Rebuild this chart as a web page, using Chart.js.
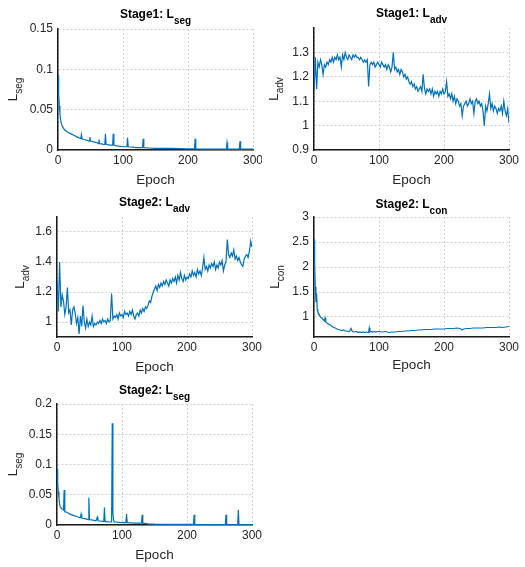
<!DOCTYPE html>
<html>
<head>
<meta charset="utf-8">
<script src="https://cdn.jsdelivr.net/npm/chart.js@4.4.1/dist/chart.umd.min.js"></script>
<style>
  html, body { margin: 0; padding: 0; background: #fff; }
  #page { position: relative; width: 525px; height: 567px; }
  .box { position: absolute; }
</style>
</head>
<body>
<div id="page">
  <div class="box" style="left:0;top:0;width:262px;height:190px"><canvas id="c1"></canvas></div>
  <div class="box" style="left:262px;top:0;width:263px;height:190px"><canvas id="c2"></canvas></div>
  <div class="box" style="left:0;top:190px;width:262px;height:190px"><canvas id="c3"></canvas></div>
  <div class="box" style="left:262px;top:190px;width:263px;height:190px"><canvas id="c4"></canvas></div>
  <div class="box" style="left:0;top:380px;width:262px;height:187px"><canvas id="c5"></canvas></div>
</div>
<script>
const epochTicks = [0, 100, 200, 300];

// Stage1: L_seg
const seg1Epochs = [0, 1, 2, 3, 4, 5, 7, 10, 15, 20, 25, 30, 35, 36, 37, 40, 45, 48, 49, 50,
  55, 60, 62, 63, 64, 70, 72, 73, 74, 80, 84, 85, 86, 90, 100, 106, 107, 108, 115, 120,
  130, 131, 132, 140, 150, 175, 200, 210, 211, 212, 230, 250, 259, 260, 261, 270, 279, 280, 281, 290, 300];
const seg1Loss = [0.093, 0.07, 0.055, 0.045, 0.038, 0.033, 0.029, 0.025, 0.022, 0.02, 0.018, 0.016, 0.014, 0.019, 0.014, 0.013, 0.012, 0.011, 0.016, 0.011,
  0.010, 0.009, 0.008, 0.013, 0.008, 0.007, 0.007, 0.020, 0.007, 0.006, 0.006, 0.020, 0.006, 0.005, 0.004, 0.004, 0.015, 0.004, 0.0035, 0.003,
  0.003, 0.014, 0.003, 0.0025, 0.002, 0.002, 0.0015, 0.0015, 0.014, 0.0015, 0.0012, 0.001, 0.001, 0.009, 0.001, 0.001, 0.001, 0.011, 0.001, 0.001, 0.001];
const seg1Ticks = [0, 0.05, 0.1, 0.15];

// epochs shared by both L_adv curves
const advEpochs = [0, 2, 4, 6, 8, 10, 12, 14, 16, 18, 20, 22, 24, 26, 28, 30, 32, 34, 36, 38,
  40, 42, 44, 46, 48, 50, 52, 54, 56, 58, 60, 62, 64, 66, 68, 70, 72, 74, 76, 78,
  80, 82, 84, 86, 88, 90, 92, 94, 96, 98, 100, 102, 104, 106, 108, 110, 112, 114, 116, 118,
  120, 122, 124, 126, 128, 130, 132, 134, 136, 138, 140, 142, 144, 146, 148, 150, 152, 154, 156, 158,
  160, 162, 164, 166, 168, 170, 172, 174, 176, 178, 180, 182, 184, 186, 188, 190, 192, 194, 196, 198,
  200, 202, 204, 206, 208, 210, 212, 214, 216, 218, 220, 222, 224, 226, 228, 230, 232, 234, 236, 238,
  240, 242, 244, 246, 248, 250, 252, 254, 256, 258, 260, 262, 264, 266, 268, 270, 272, 274, 276, 278,
  280, 282, 284, 286, 288, 290, 292, 294, 296, 298, 300];

// Stage1: L_adv
const adv1Loss = [1.14, 1.28, 1.15, 1.26, 1.24, 1.27, 1.25, 1.21, 1.25, 1.24, 1.26, 1.25, 1.27, 1.26, 1.28, 1.26, 1.28, 1.27, 1.29, 1.27,
  1.28, 1.24, 1.29, 1.27, 1.30, 1.28, 1.27, 1.29, 1.28, 1.27, 1.29, 1.28, 1.29, 1.28, 1.28, 1.27, 1.28, 1.27, 1.26, 1.27,
  1.26, 1.27, 1.16, 1.25, 1.26, 1.25, 1.26, 1.24, 1.25, 1.26, 1.25, 1.24, 1.26, 1.25, 1.24, 1.25, 1.23, 1.25, 1.24, 1.22,
  1.24, 1.30, 1.23, 1.24, 1.22, 1.23, 1.21, 1.23, 1.22, 1.20, 1.21, 1.19, 1.20, 1.18, 1.17, 1.18, 1.16, 1.17, 1.15, 1.16,
  1.14, 1.15, 1.16, 1.14, 1.21, 1.15, 1.13, 1.15, 1.14, 1.15, 1.13, 1.15, 1.12, 1.14, 1.13, 1.14, 1.12, 1.14, 1.13, 1.15,
  1.13, 1.14, 1.18, 1.12, 1.13, 1.11, 1.13, 1.10, 1.12, 1.09, 1.11, 1.10, 1.08, 1.09, 1.04, 1.08, 1.09, 1.10, 1.08, 1.09,
  1.11, 1.09, 1.10, 1.05, 1.10, 1.11, 1.09, 1.10, 1.08, 1.09, 1.06, 1.00, 1.08, 1.06, 1.09, 1.13, 1.07, 1.09, 1.06, 1.08,
  1.07, 1.05, 1.07, 1.06, 1.08, 1.05, 1.10, 1.06, 1.04, 1.07, 1.01];
const adv1Ticks = [0.9, 1, 1.1, 1.2, 1.3];

// Stage2: L_adv
const adv2Loss = [1.28, 1.07, 1.40, 1.10, 1.18, 1.14, 1.05, 1.10, 1.23, 1.06, 1.08, 0.98, 1.08, 1.10, 1.06, 0.99, 1.03, 0.92, 1.04, 0.97,
  1.11, 1.00, 0.96, 1.02, 0.97, 1.00, 0.98, 1.04, 0.97, 0.99, 0.98, 1.00, 0.99, 1.01, 0.99, 1.02, 1.00, 1.01, 0.99, 1.02,
  1.00, 1.01, 1.19, 1.02, 1.04, 1.03, 1.05, 1.02, 1.06, 1.04, 1.05, 1.03, 1.07, 1.05, 1.06, 1.04, 1.07, 1.05, 1.08, 1.04,
  1.02, 1.05, 1.06, 1.04, 1.08, 1.06, 1.09, 1.07, 1.10, 1.09, 1.11, 1.14, 1.13, 1.17, 1.20, 1.22, 1.24, 1.21, 1.25, 1.23,
  1.26, 1.24, 1.27, 1.25, 1.28, 1.26, 1.24, 1.28, 1.26, 1.29, 1.27, 1.30, 1.26, 1.31, 1.28, 1.33, 1.29, 1.27, 1.31, 1.28,
  1.30, 1.29, 1.32, 1.30, 1.34, 1.31, 1.33, 1.30, 1.35, 1.32, 1.34, 1.31, 1.36, 1.43, 1.35, 1.37, 1.34, 1.38, 1.36, 1.39,
  1.37, 1.40, 1.35, 1.38, 1.36, 1.40, 1.38, 1.41, 1.34, 1.38, 1.40, 1.55, 1.45, 1.43, 1.46, 1.44, 1.48, 1.42, 1.44, 1.41,
  1.43, 1.40, 1.38, 1.37, 1.42, 1.44, 1.45, 1.43, 1.47, 1.54, 1.50];
const adv2Ticks = [1, 1.2, 1.4, 1.6];

// Stage2: L_con
const conEpochs = [0, 1, 2, 3, 4, 5, 6, 8, 10, 12, 14, 16, 17, 18, 20, 22, 25, 28, 30, 33,
  35, 38, 40, 43, 45, 48, 50, 53, 55, 57, 59, 62, 65, 68, 70, 73, 75, 78, 80, 84,
  85, 86, 88, 90, 93, 95, 98, 100, 105, 110, 115, 120, 125, 130, 135, 140, 145, 150, 155, 160,
  165, 170, 175, 180, 185, 190, 195, 200, 205, 210, 215, 220, 224, 226, 228, 230, 235, 240, 245, 250,
  255, 260, 265, 270, 275, 280, 285, 290, 295, 300];
const conLoss = [2.55, 2.05, 1.60, 1.30, 1.47, 1.15, 1.10, 1.05, 1.00, 0.98, 0.95, 0.92, 0.98, 0.90, 0.88, 0.86, 0.84, 0.81, 0.79, 0.78,
  0.76, 0.75, 0.74, 0.73, 0.74, 0.72, 0.72, 0.71, 0.72, 0.77, 0.71, 0.70, 0.71, 0.69, 0.70, 0.69, 0.70, 0.69, 0.70, 0.69,
  0.78, 0.70, 0.71, 0.70, 0.71, 0.70, 0.71, 0.71, 0.70, 0.71, 0.69, 0.70, 0.70, 0.71, 0.71, 0.72, 0.72, 0.73, 0.73, 0.74,
  0.74, 0.75, 0.75, 0.75, 0.76, 0.76, 0.76, 0.76, 0.77, 0.77, 0.77, 0.78, 0.77, 0.76, 0.74, 0.76, 0.77, 0.77, 0.78, 0.78,
  0.78, 0.78, 0.79, 0.79, 0.79, 0.79, 0.80, 0.79, 0.80, 0.81];
const conTicks = [1, 1.5, 2, 2.5, 3];

// Stage2: L_seg
const seg2Epochs = [0, 1, 2, 3, 4, 5, 7, 10, 11, 12, 15, 20, 25, 30, 36, 37, 38, 40, 45, 48,
  49, 50, 55, 60, 61, 62, 63, 70, 72, 73, 74, 80, 84, 85, 86, 87, 88, 90, 100, 106,
  107, 108, 120, 130, 131, 132, 140, 150, 175, 200, 210, 211, 212, 230, 250, 259, 260, 261, 270, 278,
  279, 280, 290, 300];
const seg2Loss = [0.093, 0.07, 0.055, 0.045, 0.035, 0.03, 0.027, 0.025, 0.058, 0.022, 0.021, 0.018, 0.016, 0.014, 0.012, 0.018, 0.012, 0.011, 0.010, 0.009,
  0.045, 0.009, 0.008, 0.007, 0.007, 0.013, 0.007, 0.006, 0.006, 0.029, 0.006, 0.005, 0.005, 0.168, 0.02, 0.008, 0.005, 0.005, 0.004, 0.004,
  0.018, 0.004, 0.003, 0.003, 0.017, 0.003, 0.002, 0.0015, 0.001, 0.001, 0.001, 0.017, 0.001, 0.0008, 0.0007, 0.0007, 0.017, 0.0007, 0.0006, 0.0006,
  0.025, 0.0006, 0.0005, 0.0005];
const seg2Ticks = [0, 0.05, 0.1, 0.15, 0.2];

const FONT = '"Liberation Sans", Arial, Helvetica, sans-serif';

function drawSub(ctx, main, sub, x, y, size, subSize, drop, bold) {
  const w = bold ? 'bold ' : '';
  const mainFont = w + size + 'px ' + FONT;
  const subFont = w + subSize + 'px ' + FONT;
  ctx.font = mainFont;
  const mw = ctx.measureText(main).width;
  ctx.font = subFont;
  const sw = sub ? ctx.measureText(sub).width : 0;
  const x0 = x - (mw + sw) / 2;
  ctx.textAlign = 'left';
  ctx.textBaseline = 'alphabetic';
  ctx.font = mainFont;
  ctx.fillText(main, x0, y);
  if (sub) {
    ctx.font = subFont;
    ctx.fillText(sub, x0 + mw, y + drop);
  }
}

// titles and axis labels with subscripts
const mlText = {
  id: 'mlText',
  afterDraw(chart, args, o) {
    const { ctx, chartArea: a } = chart;
    const cx = (a.left + a.right) / 2;
    ctx.save();
    ctx.fillStyle = '#000';
    drawSub(ctx, o.title, o.titleSub, cx, o.titleY, 12, 10, 6, true);
    ctx.fillStyle = '#262626';
    drawSub(ctx, 'Epoch', '', cx, a.bottom + o.xlabelDy, 13.5, 0, 0, false);
    ctx.translate(o.ylabelX, (a.top + a.bottom) / 2);
    ctx.rotate(-Math.PI / 2);
    drawSub(ctx, 'L', o.ylabelSub, 0, 0, 13.5, 10, 5, false);
    ctx.restore();
  }
};

function lossChart(id, epochs, values, yMin, yMax, yTicks, box, text) {
  const grid = { color: '#d0d0d0', lineWidth: 1, drawTicks: false };
  const border = { color: '#1a1a1a', width: 1.5, dash: [2, 2] };
  const tickFont = { family: FONT, size: 12 };
  new Chart(document.getElementById(id), {
    type: 'line',
    data: {
      datasets: [{
        data: epochs.map((e, i) => ({ x: e, y: values[i] })),
        borderColor: '#0072BD',
        borderWidth: 1.2,
        pointRadius: 0,
        tension: 0,
        fill: false
      }]
    },
    options: {
      responsive: true,
      maintainAspectRatio: false,
      animation: false,
      devicePixelRatio: 1,
      layout: { padding: { top: box.top, right: box.right, left: 0, bottom: 0 } },
      plugins: {
        legend: { display: false },
        tooltip: { enabled: false },
        mlText: text
      },
      scales: {
        x: {
          type: 'linear',
          min: 0,
          max: 300,
          afterBuildTicks: s => { s.ticks = epochTicks.map(v => ({ value: v })); },
          afterFit: s => { s.height = box.bottom; s.paddingLeft = 0; s.paddingRight = 0; },
          grid: grid,
          border: border,
          ticks: { font: tickFont, color: '#262626', padding: 3, maxRotation: 0, callback: v => String(v) }
        },
        y: {
          type: 'linear',
          min: yMin,
          max: yMax,
          afterBuildTicks: s => { s.ticks = yTicks.map(v => ({ value: v })); },
          afterFit: s => { s.width = box.left; s.paddingTop = 0; s.paddingBottom = 0; },
          grid: grid,
          border: border,
          ticks: { font: tickFont, color: '#262626', padding: 5, callback: v => String(v) }
        }
      }
    },
    plugins: [mlText]
  });
}

lossChart('c1', seg1Epochs, seg1Loss, 0, 0.15, seg1Ticks,
  { left: 58, top: 29, right: 9, bottom: 40 },
  { title: 'Stage1: L', titleSub: 'seg', titleY: 18, ylabelSub: 'seg', ylabelX: 17, xlabelDy: 34 });
lossChart('c2', advEpochs, adv1Loss, 0.9, 1.4, adv1Ticks,
  { left: 52, top: 28, right: 16, bottom: 40 },
  { title: 'Stage1: L', titleSub: 'adv', titleY: 17, ylabelSub: 'adv', ylabelX: 16, xlabelDy: 34 });
lossChart('c3', advEpochs, adv2Loss, 0.9, 1.7, adv2Ticks,
  { left: 57, top: 27, right: 10, bottom: 43 },
  { title: 'Stage2: L', titleSub: 'adv', titleY: 16, ylabelSub: 'adv', ylabelX: 24, xlabelDy: 34 });
lossChart('c4', conEpochs, conLoss, 0.6, 3, conTicks,
  { left: 52, top: 27, right: 16, bottom: 43 },
  { title: 'Stage2: L', titleSub: 'con', titleY: 18, ylabelSub: 'con', ylabelX: 17, xlabelDy: 32 });
lossChart('c5', seg2Epochs, seg2Loss, 0, 0.2, seg2Ticks,
  { left: 57, top: 24, right: 10, bottom: 42 },
  { title: 'Stage2: L', titleSub: 'seg', titleY: 14, ylabelSub: 'seg', ylabelX: 17, xlabelDy: 34 });
</script>
</body>
</html>
